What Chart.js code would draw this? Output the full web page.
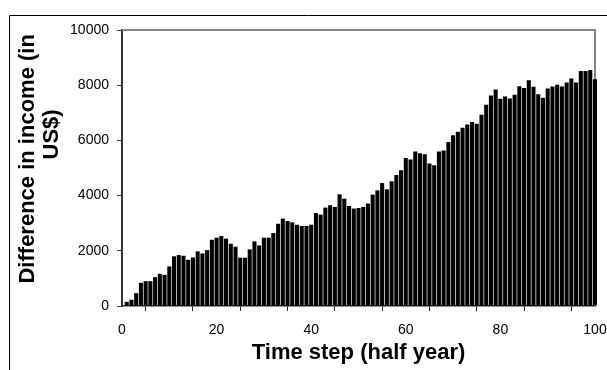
<!DOCTYPE html>
<html>
<head>
<meta charset="utf-8">
<script src="https://cdn.jsdelivr.net/npm/chart.js@4/dist/chart.umd.min.js"></script>
<style>
  html, body { margin: 0; padding: 0; background: #fff; }
  #wrap { width: 607px; height: 370px; }
</style>
</head>
<body>
<div id="wrap"><canvas id="myChart" width="607" height="370"></canvas></div>
<script>
// time steps (half years) 1..100
var timeSteps = [
  1, 2, 3, 4, 5, 6, 7, 8, 9, 10, 11, 12, 13, 14, 15, 16, 17, 18, 19, 20,
  21, 22, 23, 24, 25, 26, 27, 28, 29, 30, 31, 32, 33, 34, 35, 36, 37, 38, 39, 40,
  41, 42, 43, 44, 45, 46, 47, 48, 49, 50, 51, 52, 53, 54, 55, 56, 57, 58, 59, 60,
  61, 62, 63, 64, 65, 66, 67, 68, 69, 70, 71, 72, 73, 74, 75, 76, 77, 78, 79, 80,
  81, 82, 83, 84, 85, 86, 87, 88, 89, 90, 91, 92, 93, 94, 95, 96, 97, 98, 99, 100
];

// difference in income (US$) per time step
var incomeDiff = [
  150, 225, 465, 840, 900, 900, 1045, 1170, 1130, 1435,
  1800, 1845, 1820, 1675, 1760, 1980, 1905, 2025, 2400, 2475,
  2535, 2440, 2255, 2150, 1750, 1750, 2050, 2340, 2195, 2475,
  2475, 2640, 2980, 3165, 3080, 3030, 2945, 2900, 2900, 2945,
  3370, 3310, 3565, 3650, 3590, 4045, 3890, 3625, 3530, 3550,
  3590, 3710, 4035, 4190, 4455, 4230, 4520, 4750, 4920, 5365,
  5305, 5595, 5535, 5500, 5160, 5100, 5595, 5630, 5945, 6190,
  6310, 6455, 6575, 6670, 6600, 6930, 7290, 7630, 7845, 7505,
  7590, 7520, 7650, 7965, 7895, 8175, 7940, 7675, 7545, 7880,
  7955, 8015, 7955, 8100, 8245, 8100, 8510, 8510, 8550, 8220
];

var xTitle = 'Time step (half year)';
// leading spaces nudge each wrapped line up the axis like the original
var yTitle = ['   Difference in income (in', '           US$)'];

var points = [];
for (var i = 0; i < timeSteps.length; i++) {
  points.push({ x: timeSteps[i], y: incomeDiff[i] });
}

// outer frame + grey box on top/right of plot area
var framePlugin = {
  id: 'frame',
  beforeDatasetsDraw: function(chart) {
    var ctx = chart.ctx;
    var a = chart.chartArea;
    ctx.save();
    ctx.strokeStyle = '#000';
    ctx.lineWidth = 1;
    ctx.beginPath();
    ctx.moveTo(9.5, 370);
    ctx.lineTo(9.5, 15.5);
    ctx.lineTo(607, 15.5);
    ctx.stroke();
    ctx.strokeStyle = '#858585';
    ctx.lineWidth = 2;
    ctx.beginPath();
    ctx.moveTo(a.left, a.top);
    ctx.lineTo(a.right, a.top);
    ctx.lineTo(a.right, a.bottom);
    ctx.stroke();
    ctx.restore();
  }
};

var fontFam = '"Liberation Sans", Arial, sans-serif';

var ctx = document.getElementById('myChart');
var myChart = new Chart(ctx, {
  type: 'bar',
  data: {
    datasets: [{
      label: 'Difference',
      data: points,
      backgroundColor: '#000',
      borderWidth: 0,
      barPercentage: 0.86,
      categoryPercentage: 1,
      clip: false
    }]
  },
  options: {
    responsive: false,
    animation: false,
    devicePixelRatio: 1,
    layout: { padding: { top: 30, right: 12, left: 0, bottom: 0 } },
    plugins: {
      legend: { display: false },
      tooltip: { enabled: false },
      title: { display: false }
    },
    scales: {
      x: {
        type: 'linear',
        min: 0,
        max: 100,
        offset: false,
        border: { display: true, color: '#222', width: 1.5 },
        grid: { drawOnChartArea: false, drawTicks: true, tickLength: 5, color: '#222' },
        ticks: {
          stepSize: 10,
          maxRotation: 0,
          autoSkip: false,
          padding: 11,
          color: '#000',
          font: { family: fontFam, size: 14 },
          callback: function(v) { return v % 20 === 0 ? String(v) : ''; }
        },
        title: {
          display: true,
          text: xTitle,
          color: '#000',
          font: { family: fontFam, size: 22, weight: 'bold' },
          padding: { top: 0, bottom: 4 }
        },
        afterFit: function(scale) {
          scale.height = 64;
          scale.paddingLeft = 0;
          scale.paddingRight = 0;
        }
      },
      y: {
        min: 0,
        max: 10000,
        border: { display: true, color: '#333', width: 2 },
        grid: { drawOnChartArea: false, drawTicks: true, tickLength: 5, color: '#333' },
        ticks: {
          stepSize: 2000,
          padding: 8,
          color: '#000',
          font: { family: fontFam, size: 14 },
          callback: function(v) { return String(v); }
        },
        title: {
          display: true,
          text: yTitle,
          color: '#000',
          font: { family: fontFam, size: 22, weight: 'bold', lineHeight: 1.1 },
          padding: { top: 16, bottom: 0 }
        },
        afterFit: function(scale) {
          scale.width = 122;
          scale.paddingTop = 0;
          scale.paddingBottom = 0;
        }
      }
    }
  },
  plugins: [framePlugin]
});
</script>
</body>
</html>
